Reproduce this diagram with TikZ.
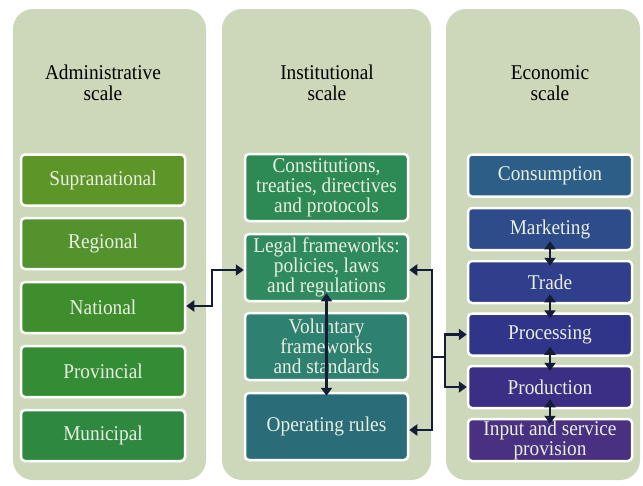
\documentclass[tikz,border=0pt]{standalone}
\usepackage{fontspec}
\setmainfont{LiberationSerif}[Extension=.ttf, UprightFont=*-Regular, BoldFont=*-Bold, ItalicFont=*-Italic, BoldItalicFont=*-BoldItalic, FakeStretch=0.92]
\usetikzlibrary{arrows.meta}
\definecolor{panel}{HTML}{CCD8B9}
\definecolor{boxtext}{HTML}{E9EFE2}
\definecolor{arrowc}{HTML}{151C36}
\definecolor{cSup}{HTML}{5E9529}
\definecolor{cReg}{HTML}{54922E}
\definecolor{cNat}{HTML}{3F8E2D}
\definecolor{cPro}{HTML}{348C35}
\definecolor{cMun}{HTML}{2E883F}
\definecolor{cCon}{HTML}{2E8A55}
\definecolor{cLeg}{HTML}{2F8A60}
\definecolor{cVol}{HTML}{2E8070}
\definecolor{cOpr}{HTML}{2A6C78}
\definecolor{cCns}{HTML}{2C5E88}
\definecolor{cMkt}{HTML}{2E4B8A}
\definecolor{cTrd}{HTML}{2F3F8B}
\definecolor{cPrc}{HTML}{30358A}
\definecolor{cPrd}{HTML}{3A2E85}
\definecolor{cInp}{HTML}{4A3080}
\begin{document}
\begin{tikzpicture}[x=1pt,y=-1pt,
  panelbox/.style={fill=panel, rounded corners=20pt},
  titletext/.style={align=center, font=\fontsize{21}{20.5}\selectfont, text=black, inner sep=0pt},
  box/.style={draw=white, line width=2.5pt, rounded corners=4pt, minimum width=164pt,
    text=boxtext, align=center, font=\fontsize{21}{20}\selectfont, inner sep=0pt},
  lbox/.style={box, minimum height=51pt},
  mbox/.style={box, minimum height=67pt},
  rbox/.style={box, minimum height=42pt},
  arr/.style={draw=arrowc, line width=2.6pt, line join=miter,
    {Triangle[length=8pt,width=11pt]}-{Triangle[length=8pt,width=11pt]}},
  arrone/.style={draw=arrowc, line width=2.6pt, line join=miter,
    -{Triangle[length=8pt,width=11pt]}}
]
\fill[white] (0,0) rectangle (643,485);
\useasboundingbox (0,0) rectangle (643,485);

% panels
\fill[panelbox] (13,9) rectangle (206,480);
\fill[panelbox] (222,9) rectangle (431,480);
\fill[panelbox] (446,9) rectangle (640,480);

% titles
\node[titletext] (t1) at (103,83) {Administrative\\scale};
\node[titletext] (t2) at (327,83) {Institutional\\scale};
\node[titletext] (t3) at (550,83) {Economic\\scale};

% administrative
\node[lbox, fill=cSup] (sup) at (103,180) {Supranational};
\node[lbox, fill=cReg] (reg) at (103,243.5) {Regional};
\node[lbox, fill=cNat] (nat) at (103,307.5) {National};
\node[lbox, fill=cPro] (prv) at (103,371.5) {Provincial};
\node[lbox, fill=cMun] (mun) at (103,435.5) {Municipal};

% institutional
\node[mbox, fill=cCon, minimum width=163pt] (con) at (326.5,187.5) {Constitutions,\\treaties, directives\\and protocols};
\node[mbox, fill=cLeg, minimum width=163pt] (leg) at (326.5,267.5) {Legal frameworks:\\policies, laws\\and regulations};
\node[mbox, fill=cVol, minimum width=163pt] (vol) at (326.5,346.5) {Voluntary\\frameworks\\and standards};
\node[mbox, fill=cOpr, minimum width=163pt] (opr) at (326.5,426.5) {Operating rules};

% economic
\node[rbox, fill=cCns] (cns) at (550,175.5) {Consumption};
\node[rbox, fill=cMkt] (mkt) at (550,229) {Marketing};
\node[rbox, fill=cTrd] (trd) at (550,282) {Trade};
\node[rbox, fill=cPrc] (prc) at (550,334.5) {Processing};
\node[rbox, fill=cPrd] (prd) at (550,387) {Production};
\node[rbox, fill=cInp] (inp) at (550,440) {Input and service\\provision};

% connectors
\coordinate (lb1) at (212,306);
\coordinate (lb2) at (212,270);
\draw[arr] ([yshift=1.5pt]nat.east) -- (lb1) -- (lb2) -- ([yshift=-2.5pt]leg.west);

\draw[arr] ([yshift=9pt]leg.south) -- ([yshift=-4pt]opr.north);

\coordinate (rb1) at (432,270);
\coordinate (rb2) at (432,430);
\draw[arr] ([yshift=-2.5pt]leg.east) -- (rb1) -- (rb2) -- ([yshift=-3.5pt]opr.east);
\coordinate (j1) at (432,357);
\coordinate (j2) at (445,357);
\draw[draw=arrowc, line width=2.6pt] (j1) -- (j2);
\draw[arrone] (j2) |- (prc.west);
\draw[arrone] (j2) |- (prd.west);

\draw[arr] ([yshift=10pt]mkt.south) -- ([yshift=-6pt]trd.north);
\draw[arr] ([yshift=10pt]trd.south) -- ([yshift=-6pt]prc.north);
\draw[arr] ([yshift=10pt]prc.south) -- ([yshift=-6pt]prd.north);
\draw[arr] ([yshift=10pt]prd.south) -- ([yshift=-6pt]inp.north);
\end{tikzpicture}
\end{document}
